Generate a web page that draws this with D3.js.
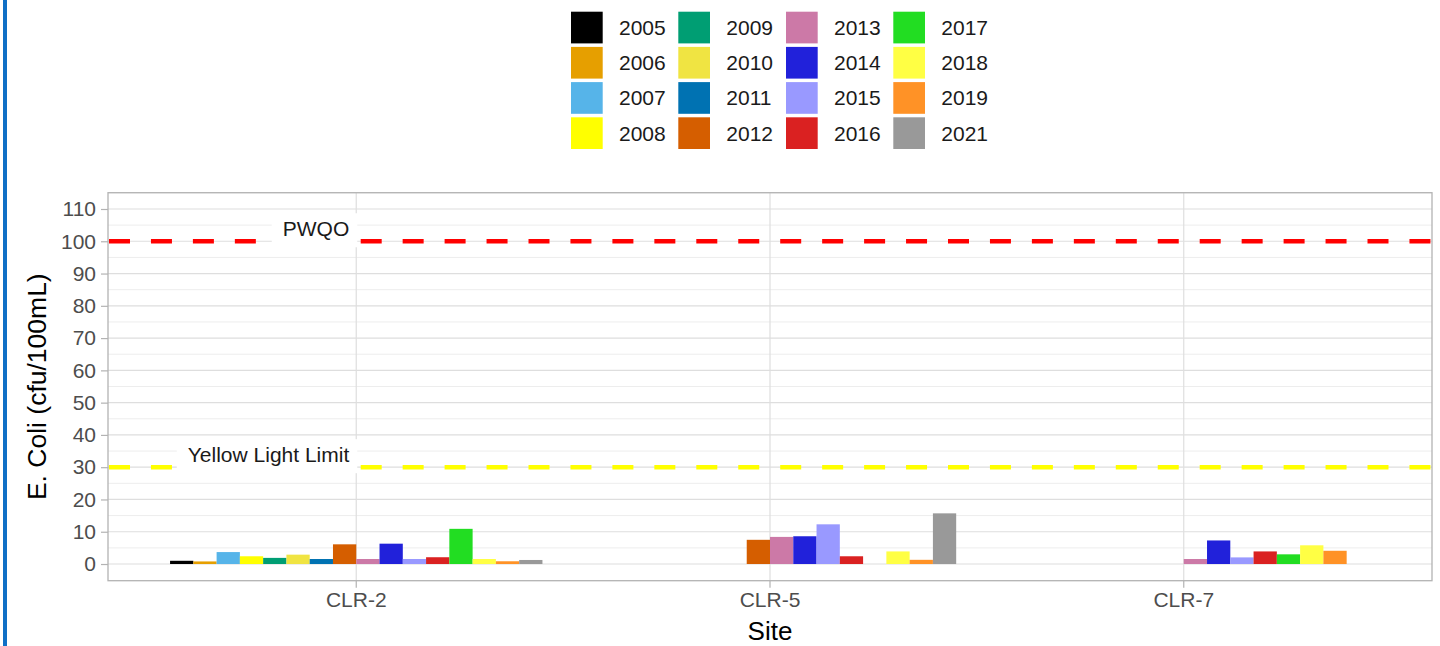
<!DOCTYPE html>
<html>
<head>
<meta charset="utf-8">
<script src="https://cdn.jsdelivr.net/npm/d3@7"></script>
<style>
  html, body { margin: 0; padding: 0; background: #fff; }
  svg { display: block; font-family: "Liberation Sans", Arial, sans-serif; }
</style>
</head>
<body>
<svg id="chart" width="1440" height="646"></svg>
<script>
// ---------- data ----------
const sites = ["CLR-2", "CLR-5", "CLR-7"];
const years = ["2005","2006","2007","2008","2009","2010","2011","2012","2013","2014","2015","2016","2017","2018","2019","2021"];
const yearColors = ["#000000","#E69F00","#56B4E9","#FFFF00","#009E73","#F0E442","#0072B2","#D55E00","#CC79A7","#2121DA","#9999FF","#DA2121","#22DD22","#FFFF44","#FF9226","#999999"];
const clr2Values = [1.0, 0.8, 3.7, 2.4, 1.9, 2.9, 1.55, 6.1, 1.55, 6.3, 1.55, 2.1, 10.9, 1.55, 0.85, 1.25];
const clr5Values = [null, null, null, null, null, null, null, 7.5, 8.4, 8.6, 12.3, 2.4, null, 3.9, 1.3, 15.7];
const clr7Values = [null, null, null, null, null, null, null, null, 1.55, 7.3, 2.05, 3.9, 3.0, 5.8, 4.1, null];
const yTicks = [0, 10, 20, 30, 40, 50, 60, 70, 80, 90, 100, 110];
const yMinorTicks = [5, 15, 25, 35, 45, 55, 65, 75, 85, 95, 105, 115];
const refLines = [
  { label: "PWQO", value: 100, color: "#FF0000" },
  { label: "Yellow Light Limit", value: 30, color: "#FFFF00" }
];

const seriesBySite = [clr2Values, clr5Values, clr7Values];
const rows = [];
sites.forEach((s, i) => years.forEach((yr, j) => {
  const v = seriesBySite[i][j];
  if (v !== null && v !== undefined) rows.push({ site: s, year: yr, value: v });
}));

// ---------- layout ----------
const svg = d3.select("#chart");
const panel = { left: 108, right: 1432, top: 192.7, bottom: 580.7 };
const axisTextColor = "#4D4D4D";

const x = d3.scaleBand().domain(sites).range([panel.left, panel.right]).paddingInner(0).paddingOuter(0.1);
const bw = x.bandwidth();
const xSub = d3.scaleBand().domain(years).range([bw * 0.05, bw * 0.95]);
const y = d3.scaleLinear().domain([-5.17, 115.05]).range([panel.bottom, panel.top]);
const color = d3.scaleOrdinal().domain(years).range(yearColors);

// left blue edge
svg.append("rect").attr("x", 3).attr("y", 0).attr("width", 4).attr("height", 646).attr("fill", "#0F6FC6");

// panel background + grid
const g = svg.append("g");
g.append("rect").attr("x", panel.left).attr("y", panel.top)
  .attr("width", panel.right - panel.left).attr("height", panel.bottom - panel.top).attr("fill", "#fff");

g.selectAll(".minor").data(yMinorTicks.filter(t => y(t) > panel.top)).join("line")
  .attr("x1", panel.left).attr("x2", panel.right)
  .attr("y1", d => y(d)).attr("y2", d => y(d))
  .attr("stroke", "#EDEDED").attr("stroke-width", 1);
g.selectAll(".major").data(yTicks).join("line")
  .attr("x1", panel.left).attr("x2", panel.right)
  .attr("y1", d => y(d)).attr("y2", d => y(d))
  .attr("stroke", "#DEDEDE").attr("stroke-width", 1.2);
g.selectAll(".vmajor").data(sites).join("line")
  .attr("x1", d => x(d) + bw / 2).attr("x2", d => x(d) + bw / 2)
  .attr("y1", panel.top).attr("y2", panel.bottom)
  .attr("stroke", "#DEDEDE").attr("stroke-width", 1.2);

// bars
g.selectAll(".bar").data(rows).join("rect")
  .attr("x", d => x(d.site) + xSub(d.year))
  .attr("width", xSub.bandwidth())
  .attr("y", d => y(d.value))
  .attr("height", d => y(0) - y(d.value))
  .attr("fill", d => color(d.year));

// reference lines
refLines.forEach(r => {
  g.append("line")
    .attr("x1", panel.left + 1).attr("x2", panel.right)
    .attr("y1", y(r.value)).attr("y2", y(r.value))
    .attr("stroke", r.color).attr("stroke-width", 4.5)
    .attr("stroke-dasharray", "21 20.95");
});

// labels (white box, right-aligned at CLR-2)
const labelX = x(sites[0]) + bw / 2;
refLines.forEach(r => {
  const ly = y(r.value);
  const lg = g.append("g");
  const box = lg.append("rect").attr("fill", "#fff");
  const t = lg.append("text")
    .attr("x", labelX - 7).attr("y", ly - 5)
    .attr("text-anchor", "end")
    .attr("font-size", 21).attr("fill", "#1a1a1a")
    .text(r.label);
  const bb = t.node().getBBox();
  box.attr("x", bb.x - 11).attr("y", ly - 28)
    .attr("width", labelX + 1 - (bb.x - 11)).attr("height", 34);
});

// panel border
g.append("rect").attr("x", panel.left).attr("y", panel.top)
  .attr("width", panel.right - panel.left).attr("height", panel.bottom - panel.top)
  .attr("fill", "none").attr("stroke", "#B3B3B3").attr("stroke-width", 1.3);

// y axis
const yAxis = svg.append("g").attr("transform", `translate(${panel.left},0)`)
  .call(d3.axisLeft(y).tickValues(yTicks).tickSize(7).tickPadding(5));
yAxis.select(".domain").remove();
yAxis.selectAll(".tick line").attr("stroke", "#B3B3B3").attr("stroke-width", 1.2);
yAxis.selectAll(".tick text").attr("fill", axisTextColor).attr("font-size", 21)
  .attr("font-family", '"Liberation Sans", Arial, sans-serif');

// x axis
const xAxis = svg.append("g").attr("transform", `translate(0,${panel.bottom})`)
  .call(d3.axisBottom(x).tickSize(7).tickPadding(4));
xAxis.select(".domain").remove();
xAxis.selectAll(".tick line").attr("stroke", "#B3B3B3").attr("stroke-width", 1.2);
xAxis.selectAll(".tick text").attr("fill", axisTextColor).attr("font-size", 21)
  .attr("font-family", '"Liberation Sans", Arial, sans-serif');

// axis titles
svg.append("text").attr("x", (panel.left + panel.right) / 2).attr("y", 640)
  .attr("text-anchor", "middle").attr("font-size", 26).attr("fill", "#000").text("Site");
svg.append("text")
  .attr("transform", `translate(46,${(panel.top + panel.bottom) / 2}) rotate(-90)`)
  .attr("text-anchor", "middle").attr("font-size", 26.5).attr("fill", "#000")
  .text("E. Coli (cfu/100mL)");

// legend (4 columns, filled by column)
const legCols = [571, 678.3, 786, 893.3];
const legTop = 11.7, legRowStep = 35.2, keySize = 31.7;
const leg = svg.append("g");
years.forEach((yr, i) => {
  const col = Math.floor(i / 4), row = i % 4;
  const kx = legCols[col], ky = legTop + row * legRowStep;
  leg.append("rect").attr("x", kx).attr("y", ky).attr("width", keySize).attr("height", keySize)
    .attr("fill", color(yr));
  leg.append("text").attr("x", kx + 48).attr("y", ky + keySize / 2)
    .attr("dominant-baseline", "central").attr("font-size", 21).attr("fill", "#1a1a1a").text(yr);
});
</script>
</body>
</html>
